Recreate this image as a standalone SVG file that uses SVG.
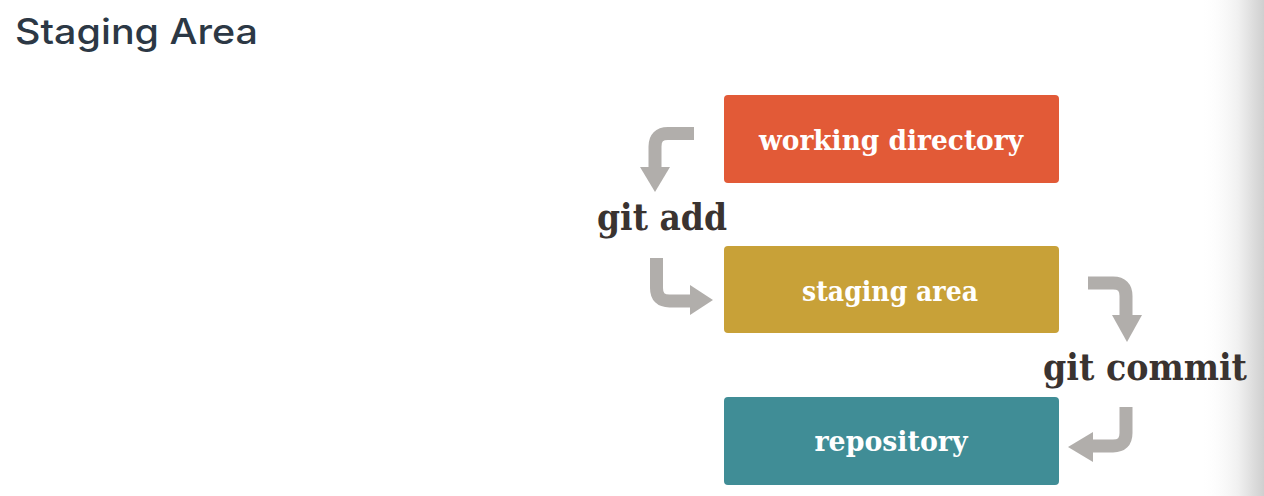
<svg xmlns="http://www.w3.org/2000/svg" width="1264" height="496" viewBox="0 0 1264 496">
<defs>
<linearGradient id="edge" x1="0" y1="0" x2="1" y2="0">
<stop offset="0" stop-color="#ffffff" stop-opacity="0"/>
<stop offset="0.6" stop-color="#f0f0f0" stop-opacity="1"/>
<stop offset="1" stop-color="#cfcfcf" stop-opacity="1"/>
</linearGradient>
<style>
.title{font-family:Inter,"Liberation Sans",Arial,sans-serif;font-weight:500;font-size:35px;fill:#2c3845}
.box{stroke:none}
.lbl{font-family:"DejaVu Serif","Liberation Serif",serif;font-weight:bold;font-size:28px;fill:#ffffff;text-anchor:middle}
.cmd{font-family:"DejaVu Serif","Liberation Serif",serif;font-weight:bold;font-size:37px;fill:#3a3330}
.shaft{fill:none;stroke:#b1aeab;stroke-width:13}
.head{fill:#b1aeab}
</style>
</defs>
<rect x="0" y="0" width="1264" height="496" fill="#ffffff"/>
<rect x="1200" y="0" width="64" height="496" fill="url(#edge)"/>
<text class="title" x="15" y="44" textLength="243" lengthAdjust="spacingAndGlyphs">Staging Area</text>

<g id="working-directory">
<rect class="box" x="724" y="95" width="335" height="88" rx="4" fill="#e25a37"/>
<text class="lbl" x="891" y="150" textLength="264" lengthAdjust="spacingAndGlyphs">working directory</text>
</g>
<g id="staging-area">
<rect class="box" x="724" y="246" width="335" height="87" rx="4" fill="#c8a138"/>
<text class="lbl" x="890" y="301" textLength="176" lengthAdjust="spacingAndGlyphs">staging area</text>
</g>
<g id="repository">
<rect class="box" x="724" y="397" width="335" height="88" rx="4" fill="#408d96"/>
<text class="lbl" x="891" y="451" textLength="153" lengthAdjust="spacingAndGlyphs">repository</text>
</g>

<g id="git-add">
<text class="cmd" x="597" y="230" textLength="130" lengthAdjust="spacingAndGlyphs">git add</text>
</g>
<g id="git-commit">
<text class="cmd" x="1043" y="380" textLength="204" lengthAdjust="spacingAndGlyphs">git commit</text>
</g>

<g id="connectors">
<path class="shaft" d="M694 133.5 H668 Q655 133.5 655 146.5 V168"/>
<polygon class="head" points="640,167 670,167 655,192"/>
<path class="shaft" d="M656.5 258 V288 Q656.5 301 669.5 301 H691"/>
<polygon class="head" points="690,285 690,315 713,300"/>
<path class="shaft" d="M1088 283 H1113 Q1126 283 1126 296 V316"/>
<polygon class="head" points="1112,315 1142,315 1127,342"/>
<path class="shaft" d="M1126 407 V433 Q1126 446 1113 446 H1092"/>
<polygon class="head" points="1093,432 1093,462 1068,447"/>
</g>
</svg>
